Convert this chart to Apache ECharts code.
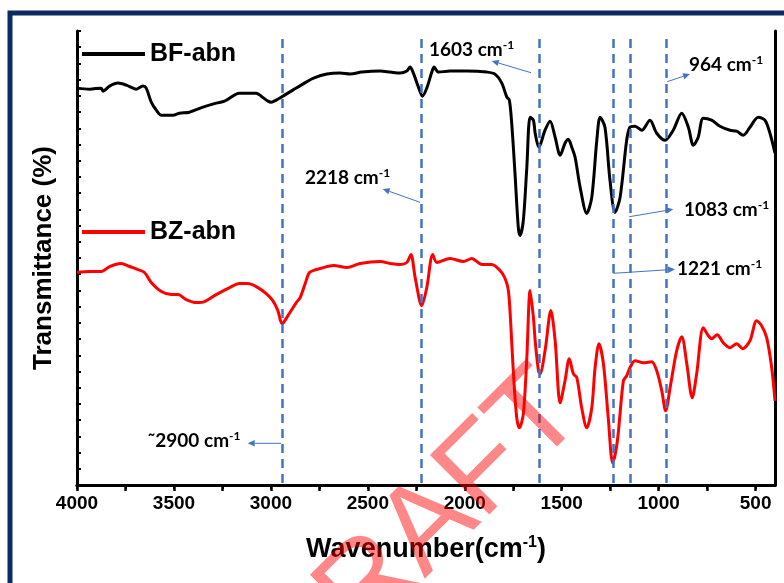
<!DOCTYPE html>
<html>
<head>
<meta charset="utf-8">
<script src="https://cdn.jsdelivr.net/npm/echarts@6/dist/echarts.min.js"></script>
<style>html,body{margin:0;padding:0;background:#fff;}#c{width:784px;height:583px;}</style>
</head>
<body>
<div id="c"></div>
<script>
// ---- data ----
const bfWave = [4000,3935,3875,3866,3832,3789,3746,3711,3694,3660,3643,3617,3591,3565,3505,3471,3420,3350,3282,3239,3162,3076,3050,3015,2998,2973,2938,2887,2818,2780,2711,2643,2591,2531,2436,2385,2333,2299,2282,2265,2239,2218,2196,2170,2158,2136,2076,1990,1886,1844,1809,1783,1770,1758,1741,1724,1715,1698,1680,1663,1646,1637,1618,1586,1560,1534,1508,1483,1466,1448,1431,1405,1371,1345,1319,1302,1277,1251,1225,1199,1165,1148,1122,1087,1045,1010,967,925,881,847,821,796,770,727,684,632,598,564,529,486,452,426,400];
const bfTrans = [396,395,396,393,398,401,399,396,395,398,396,382,374,369,369,371,372,377,381,383,391,391,388,383,382,384,388,394,402,406,410,411,410,412,413,412,411,413,417,411,397,388,396,412,417,412,413,413,412,410,401,387,384,361,311,257,249,264,317,367,364,351,337,354,363,347,329,341,345,337,327,297,271,287,344,367,357,304,272,287,344,357,358,354,364,351,344,354,371,357,339,347,366,364,358,354,353,349,357,367,364,351,331];

const bzWave = [4000,3935,3875,3832,3772,3729,3686,3652,3617,3565,3514,3479,3437,3385,3342,3282,3213,3162,3119,3067,3024,2990,2964,2942,2912,2869,2849,2823,2801,2766,2746,2677,2608,2540,2436,2385,2333,2299,2278,2256,2222,2196,2165,2144,2076,2007,1964,1912,1861,1818,1792,1775,1763,1749,1732,1718,1698,1680,1663,1646,1637,1620,1612,1586,1556,1534,1508,1483,1461,1440,1422,1397,1371,1345,1328,1308,1285,1260,1237,1213,1182,1165,1148,1122,1079,1036,1010,984,964,941,907,881,855,827,804,770,744,727,698,667,632,598,567,529,495,469,443,417,400];
const bzTrans = [212,213,213,218,221,218,215,212,202,193,190,190,185,182,183,190,197,201,201,197,191,184,174,161,169,182,187,201,212,215,216,219,217,221,223,221,220,222,230,207,179,197,230,222,226,223,226,220,220,214,206,194,161,111,67,57,71,127,194,167,144,114,111,134,174,144,82,104,126,111,107,77,57,77,117,141,121,67,22,44,104,109,117,124,122,123,114,94,74,97,134,148,121,87,111,157,149,146,150,142,137,141,136,144,164,159,147,117,84];

const refLines = [2943, 2222, 1617, 1234, 1149, 959];   // dashed marker positions (cm-1)
const xLabelValues = [4000,3500,3000,2500,2000,1500,1000,500];
const xTickValues = [4000,3750,3500,3250,3000,2750,2500,2250,2000,1750,1500,1250,1000,750,500];

const seriesNames = ['BF-abn', 'BZ-abn'];
const annotations = [
  {t:'1603', x:429, y:50, from:[531,72.7], to:[491.7,61]},
  {t:'964',  x:689, y:65, from:[667.3,81.7], to:[690,74]},
  {t:'2218', x:305, y:177.5, from:[420,202.3], to:[382.7,189]},
  {t:'1083', x:684, y:210, from:[629.3,216.7], to:[673.3,209.3]},
  {t:'1221', x:677, y:269, from:[613.3,273.3], to:[675,269.3]},
  {t:'\u02DC2900', x:147.7, y:441, from:[281,443.3], to:[247.7,443.3]}
];

const zip = (a, b) => a.map((v, i) => [v, b[i]]);

const AR = 'Liberation Sans';
const blue = '#4472C4';

function arrow(p1, p2) {
  const dx = p2[0]-p1[0], dy = p2[1]-p1[1];
  const L = Math.sqrt(dx*dx+dy*dy), ux = dx/L, uy = dy/L;
  const hl = 7, hw = 3.2;
  const bx = p2[0]-ux*hl, by = p2[1]-uy*hl;
  return [
    {type:'line', shape:{x1:p1[0], y1:p1[1], x2:bx, y2:by}, style:{stroke:blue, lineWidth:1}, z:50},
    {type:'polygon', shape:{points:[[p2[0],p2[1]],[bx-uy*hw, by+ux*hw],[bx+uy*hw, by-ux*hw]]}, style:{fill:blue}, z:50}
  ];
}

const graphics = [
  {type:'rect', shape:{x:10, y:13, width:800, height:600}, style:{fill:'none', stroke:'#0c2b62', lineWidth:5}, z:0}
];
annotations.forEach(a => {
  graphics.push({
    type:'text', x:a.x, y:a.y, z:50,
    style:{
      text:'{a|' + a.t + ' cm}{s|-1}',
      verticalAlign:'middle', align:'left',
      rich:{
        a:{fontFamily:'Lato', fontWeight:'bold', fontSize:19, fill:'#000', lineHeight:21},
        s:{fontFamily:'Lato', fontWeight:'bold', fontSize:12, fill:'#000', verticalAlign:'top', lineHeight:21}
      }
    }
  });
  arrow(a.from, a.to).forEach(g => graphics.push(g));
});
graphics.push({
  type:'text', x:420, y:536, rotation:Math.PI/4, z:100,
  style:{text:'DRAFT', fontFamily:AR, fontSize:122, fill:'rgba(255,0,0,0.47)', align:'center', verticalAlign:'middle'}
});

const chart = echarts.init(document.getElementById('c'), null, {renderer:'canvas'});
const axisLineStyle = {color:'#000', width:3};
chart.setOption({
  animation:false,
  backgroundColor:'#fff',
  grid:{left:77, right:9, top:31, bottom:98},
  legend:[
    {data:[seriesNames[0]], left:82, top:41, icon:'rect', itemWidth:63, itemHeight:4, padding:0, selectedMode:false,
     textStyle:{fontSize:25, fontWeight:'bold', fontFamily:AR, color:'#000', lineHeight:26}},
    {data:[seriesNames[1]], left:82, top:219, icon:'rect', itemWidth:63, itemHeight:4, padding:0, selectedMode:false,
     textStyle:{fontSize:25, fontWeight:'bold', fontFamily:AR, color:'#000', lineHeight:26}}
  ],
  xAxis:[
    {type:'value', min:400, max:4000, inverse:true, position:'bottom',
     axisLine:{show:true, lineStyle:axisLineStyle},
     axisTick:{show:true, customValues:xTickValues, length:6, inside:false, lineStyle:{color:'#000', width:2.5}},
     axisLabel:{customValues:xLabelValues, formatter:v => String(v), fontSize:19, fontWeight:'bold', fontFamily:AR, color:'#000', margin:9},
     splitLine:{show:false},
     name:'{a|Wavenumber(cm}{s|-1}{a|)}', nameLocation:'middle', nameGap:50,
     nameTextStyle:{rich:{
       a:{fontSize:27, fontWeight:'bold', fontFamily:AR, color:'#000', lineHeight:30},
       s:{fontSize:16, fontWeight:'bold', fontFamily:AR, color:'#000', verticalAlign:'top', lineHeight:30}
     }}},
    {type:'value', min:400, max:4000, inverse:true, position:'top',
     axisLine:{show:true, lineStyle:axisLineStyle},
     axisTick:{show:true, customValues:xTickValues, length:4, inside:true, lineStyle:{color:'#000', width:2}},
     axisLabel:{show:false}, splitLine:{show:false}}
  ],
  yAxis:[
    {type:'value', min:0, max:453, interval:16.178, position:'left',
     axisLine:{show:true, lineStyle:axisLineStyle},
     axisTick:{show:true, inside:true, length:4, lineStyle:{color:'#000', width:2}},
     axisLabel:{show:false}, splitLine:{show:false},
     name:'Transmittance (%)', nameLocation:'middle', nameGap:20,
     nameTextStyle:{fontSize:26, fontWeight:'bold', fontFamily:AR, color:'#000'}},
    {type:'value', min:0, max:453, position:'right',
     axisLine:{show:true, lineStyle:axisLineStyle},
     axisTick:{show:false}, axisLabel:{show:false}, splitLine:{show:false}}
  ],
  series:[
    {name:seriesNames[0], type:'line', data:zip(bfWave, bfTrans), showSymbol:false, smooth:0.3,
     lineStyle:{color:'#000', width:3}, itemStyle:{color:'#000'}, z:3},
    {name:seriesNames[1], type:'line', data:zip(bzWave, bzTrans), showSymbol:false, smooth:0.3,
     lineStyle:{color:'#ff0000', width:3}, itemStyle:{color:'#ff0000'}, z:3},
    {name:'markers', type:'line', data:[], z:5,
     markLine:{silent:true, symbol:['none','none'], label:{show:false},
       lineStyle:{color:blue, width:2.5, type:[9,6]},
       data:refLines.map(w => [{coord:[w, 2]}, {coord:[w, 447]}])}}
  ],
  graphic:graphics
});
</script>
</body>
</html>
